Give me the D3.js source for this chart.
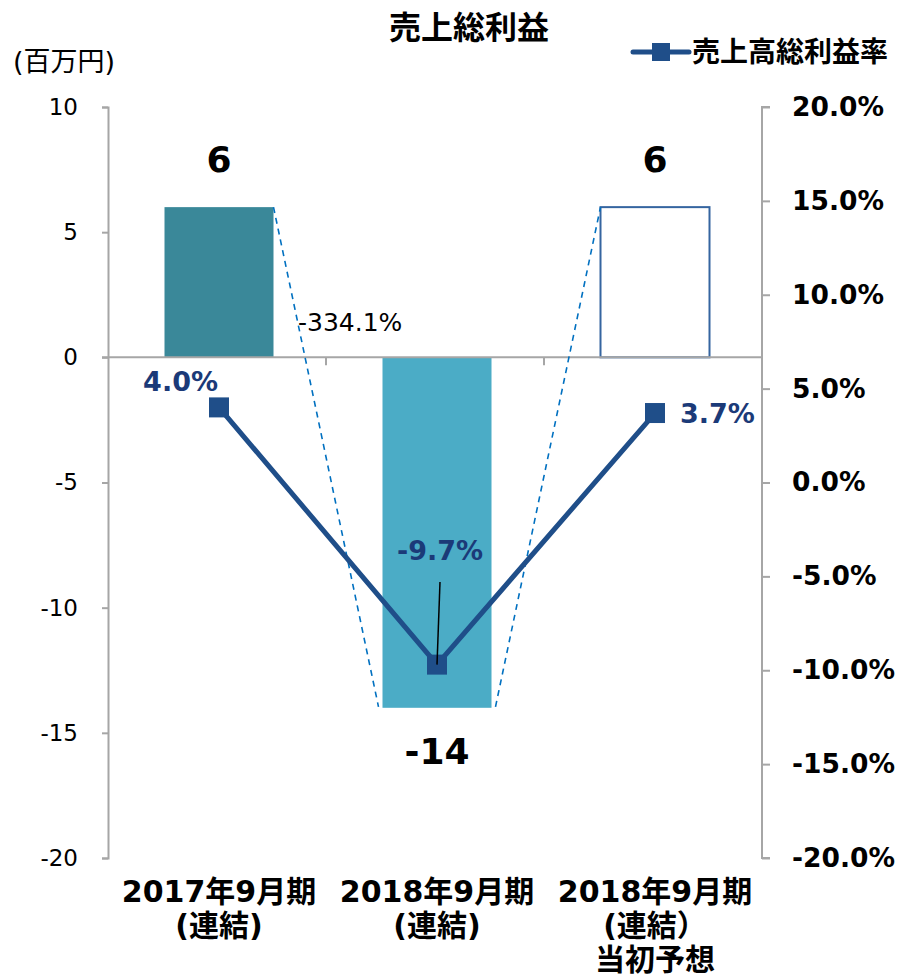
<!DOCTYPE html>
<html>
<head>
<meta charset="utf-8">
<script src="https://cdn.jsdelivr.net/npm/d3@7"></script>
<style>
  body { margin: 0; background: #fff; }
  svg text { font-family: "DejaVu Sans", "Noto Sans CJK JP", sans-serif; }
  .axis path, .axis line { stroke: #a6a6a6; stroke-width: 2; }
</style>
</head>
<body>
<div id="graphic"></div>
<script>
// Data
var categories = [
  ["2017年9月期", "(連結)"],
  ["2018年9月期", "(連結)"],
  ["2018年9月期", "(連結）", "当初予想"]
];
var profit     = [6, -14, 6];
var margins    = [0.040, -0.097, 0.037];
var profitTicks = [10, 5, 0, -5, -10, -15, -20];
var rateTicks   = [0.2, 0.15, 0.1, 0.05, 0, -0.05, -0.1, -0.15, -0.2];
var changeLabel = "-334.1%";

(function() {
  var
  width  = 908,
  height = 980,
  plot   = { left: 108, right: 762, top: 107, bottom: 858 }
  ;

  // Plain hyphen for negatives, as in the source chart
  var locale = d3.formatLocale({ decimal: ".", thousands: ",", grouping: [3], currency: ["", ""], minus: "-" });
  var pct    = locale.format(".1%");
  var num    = locale.format("d");

  var svg = d3.select("#graphic").append("svg")
      .attr("width", width)
      .attr("height", height);

  var keys = categories.map(function(d, i) { return i; });

  var x = d3.scaleBand()
    .domain(keys)
    .range([plot.left + 2, plot.right + 2])
    .paddingInner(0.5)
    .paddingOuter(0.25);

  var y = d3.scaleLinear()
    .domain([-20, 10])
    .range([plot.bottom, plot.top]);

  var y2 = d3.scaleLinear()
    .domain([-0.2, 0.2])
    .range([plot.bottom, plot.top]);

  var colors = ["#3a8899", "#4bacc6", "#ffffff"];
  var navy   = "#1f4e89";
  var step   = (plot.right - plot.left) / 3;

  // Title + unit
  svg.append("text")
    .attr("x", 469).attr("y", 39)
    .attr("text-anchor", "middle")
    .attr("font-size", 32).attr("font-weight", "bold")
    .text("売上総利益");

  svg.append("text")
    .attr("x", 13).attr("y", 71)
    .attr("font-size", 27)
    .text("(百万円)");

  // Legend
  var legend = svg.append("g").attr("transform", "translate(633,52)");
  legend.append("line")
    .attr("x1", 0).attr("x2", 56)
    .attr("stroke", navy).attr("stroke-width", 5).attr("stroke-linecap", "round");
  legend.append("rect")
    .attr("x", 19).attr("y", -9).attr("width", 18).attr("height", 18)
    .attr("fill", navy);
  legend.append("text")
    .attr("x", 59).attr("y", 10)
    .attr("font-size", 28).attr("font-weight", "bold")
    .text("売上高総利益率");

  // Left axis
  var leftAxis = svg.append("g")
    .attr("class", "axis")
    .attr("transform", "translate(" + plot.left + ",0)")
    .call(d3.axisLeft(y).tickValues(profitTicks).tickSize(6).tickSizeOuter(6).tickPadding(24)
      .tickFormat(num));
  leftAxis.selectAll("text")
    .attr("font-size", 23).attr("fill", "#000")
    .style("font-family", "'DejaVu Sans'");

  // Right axis
  var rightAxis = svg.append("g")
    .attr("class", "axis")
    .attr("transform", "translate(" + plot.right + ",0)")
    .call(d3.axisRight(y2).tickValues(rateTicks).tickSize(8).tickSizeOuter(8).tickPadding(22)
      .tickFormat(pct));
  rightAxis.selectAll("text")
    .attr("font-size", 26.5).attr("font-weight", "bold").attr("fill", "#000")
    .style("font-family", "'DejaVu Sans'");
  rightAxis.select("path").attr("d", "M8," + plot.top + "H0V" + plot.bottom + "H8");

  // Bars
  svg.append("g").attr("class", "bars")
    .selectAll("rect")
      .data(profit)
    .enter().append("rect")
      .attr("x", function(d, i) { return x(i); })
      .attr("y", function(d) { return y(Math.max(0, d)); })
      .attr("width", x.bandwidth())
      .attr("height", function(d) { return Math.abs(y(d) - y(0)); })
      .attr("fill", function(d, i) { return colors[i]; })
      .attr("stroke", function(d, i) { return i == 2 ? "#3565a0" : "none"; })
      .attr("stroke-width", 2);

  // Zero line with category ticks
  var zero = svg.append("g").attr("class", "axis");
  zero.append("line")
    .attr("x1", plot.left - 6).attr("x2", plot.right)
    .attr("y1", y(0)).attr("y2", y(0));
  zero.selectAll("line.tick")
      .data([1, 2])
    .enter().append("line")
      .attr("class", "tick")
      .attr("x1", function(d) { return plot.left + step * d; })
      .attr("x2", function(d) { return plot.left + step * d; })
      .attr("y1", y(0)).attr("y2", y(0) + 8);

  // Dashed connectors
  var b0 = x(0) + x.bandwidth(), b1l = x(1) - 4, b1r = x(1) + x.bandwidth() + 4, b2 = x(2);
  var dashes = [
    [[b0, y(profit[0])], [b1l, y(profit[1]) - 1]],
    [[b1r, y(profit[1]) - 1], [b2, y(profit[2])]]
  ];
  svg.append("g").selectAll("path")
      .data(dashes)
    .enter().append("path")
      .attr("d", d3.line())
      .attr("fill", "none")
      .attr("stroke", "#0070c0")
      .attr("stroke-width", 1.6)
      .attr("stroke-dasharray", "6,5");

  svg.append("text")
    .attr("x", 298).attr("y", 331)
    .attr("font-size", 25)
    .text(changeLabel);

  // Bar value labels
  svg.append("g").selectAll("text")
      .data(profit)
    .enter().append("text")
      .attr("x", function(d, i) { return x(i) + x.bandwidth() / 2; })
      .attr("y", function(d) { return d > 0 ? y(d) - 35 : y(d) + 56; })
      .attr("text-anchor", "middle")
      .attr("font-size", 36).attr("font-weight", "bold")
      .text(num);

  // Margin line
  var cx = function(d, i) { return x(i) + x.bandwidth() / 2; };
  var line = d3.line()
    .x(function(d, i) { return cx(d, i); })
    .y(function(d) { return y2(d); });

  svg.append("path")
    .datum(margins)
    .attr("d", line)
    .attr("fill", "none")
    .attr("stroke", navy)
    .attr("stroke-width", 5);

  svg.append("g").selectAll("rect")
      .data(margins)
    .enter().append("rect")
      .attr("x", function(d, i) { return cx(d, i) - 10; })
      .attr("y", function(d) { return y2(d) - 10; })
      .attr("width", 20).attr("height", 20)
      .attr("fill", navy);

  // Leader for the middle label
  svg.append("line")
    .attr("x1", cx(0, 1) + 3).attr("y1", 582)
    .attr("x2", cx(0, 1)).attr("y2", y2(margins[1]))
    .attr("stroke", "#000").attr("stroke-width", 1.5);

  var rateLabels = [
    { dx: -1, dy: -16, anchor: "end" },
    { dx: 3,  dy: -105, anchor: "middle" },
    { dx: 25, dy: 10, anchor: "start" }
  ];
  svg.append("g").selectAll("text")
      .data(margins)
    .enter().append("text")
      .attr("x", function(d, i) { return cx(d, i) + rateLabels[i].dx; })
      .attr("y", function(d, i) { return y2(d) + rateLabels[i].dy; })
      .attr("text-anchor", function(d, i) { return rateLabels[i].anchor; })
      .attr("font-size", 27).attr("font-weight", "bold")
      .attr("fill", "#1b3a78")
      .text(pct);

  // Category labels
  var cats = svg.append("g").selectAll("text")
      .data(categories)
    .enter().append("text")
      .attr("x", function(d, i) { return cx(d, i); })
      .attr("y", 902)
      .attr("text-anchor", "middle")
      .attr("font-size", 30).attr("font-weight", "bold");

  cats.selectAll("tspan")
      .data(function(d) { return d; })
    .enter().append("tspan")
      .attr("x", function() { return d3.select(this.parentNode).attr("x"); })
      .attr("dy", function(d, i) { return i ? 34 : 0; })
      .text(function(d) { return d; });
})();
</script>
</body>
</html>
